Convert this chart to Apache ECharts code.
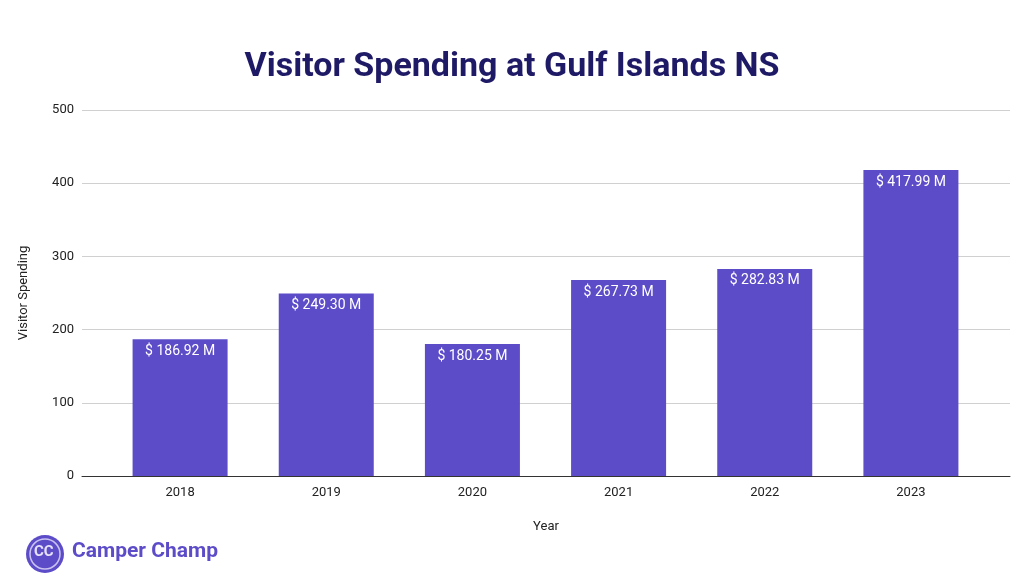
<!DOCTYPE html>
<html><head><meta charset="utf-8">
<script src="https://cdn.jsdelivr.net/npm/echarts@6/dist/echarts.min.js"></script>
<style>html,body{margin:0;padding:0;background:#fff}#c{width:1024px;height:582px}</style>
</head><body><div id="c"></div>
<script>
const years = ['2018','2019','2020','2021','2022','2023'];
const spending = [186.92, 249.30, 180.25, 267.73, 282.83, 417.99];
const chart = echarts.init(document.getElementById('c'));
const font = {fontFamily:'Roboto',fontSize:13,color:'#222'};
chart.setOption({
  animation:false,
  title:{text:'Visitor Spending at Gulf Islands NS',left:'center',top:45,
    textStyle:{fontFamily:'Roboto',fontWeight:'bold',fontSize:34,color:'#1f1a66'}},
  grid:[{left:82,right:14,top:110,bottom:106},{left:107,right:40,top:110,bottom:106}],
  xAxis:[
    {gridIndex:0,type:'category',data:years,axisTick:{show:false},axisLabel:{show:false},
     axisLine:{lineStyle:{color:'#333'}},name:'Year',nameLocation:'middle',nameGap:44,nameTextStyle:font},
    {gridIndex:1,type:'category',data:years,axisTick:{show:false},axisLine:{show:false},
     axisLabel:Object.assign({margin:10},font)}
  ],
  yAxis:[
    {gridIndex:0,type:'value',min:0,max:500,interval:100,name:'Visitor Spending',nameLocation:'middle',nameGap:52,
     nameTextStyle:font,axisLabel:Object.assign({margin:8},font),splitLine:{lineStyle:{color:'#d0d0d0'}}},
    {gridIndex:1,type:'value',min:0,max:500,interval:100,show:false,splitLine:{show:false}}
  ],
  series:[{type:'bar',xAxisIndex:1,yAxisIndex:1,data:spending,barWidth:'65%',itemStyle:{color:'#5c4cc8'},
    label:{show:true,position:'insideTop',distance:5,color:'#fff',fontFamily:'Roboto',fontSize:14,
      formatter:p=>'$ '+p.value.toFixed(2)+' M'}}],
  graphic:[
    {type:'circle',shape:{cx:45,cy:554,r:19},style:{fill:'#5c4cc8'}},
    {type:'circle',shape:{cx:45,cy:554,r:15},style:{fill:'none',stroke:'#c9c2f0',lineWidth:1.5}},
    {type:'text',left:34,top:545,style:{text:'CC',fill:'#e6e2fa',font:'bold 15px Roboto'}},
    {type:'text',left:72,top:541,style:{text:'Camper Champ',fill:'#5c4cc8',font:'bold 21px Roboto'}}
  ]
});
</script></body></html>
